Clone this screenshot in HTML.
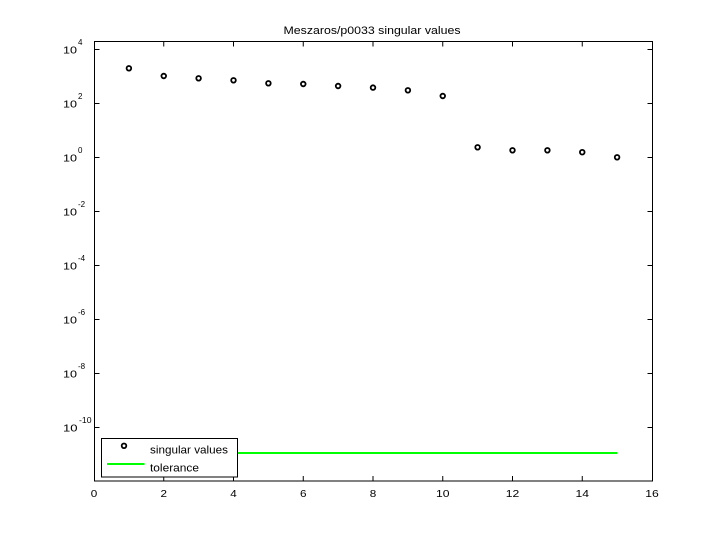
<!DOCTYPE html>
<html>
<head>
<meta charset="utf-8">
<style>
html,body{margin:0;padding:0;background:#fff;}
svg{display:block;}
text{font-family:"Liberation Sans",Arial,sans-serif;fill:#000;}
</style>
</head>
<body>
<svg width="720" height="540" viewBox="0 0 720 540" xmlns="http://www.w3.org/2000/svg">
<rect x="0" y="0" width="720" height="540" fill="#fff"/>
<!-- title -->
<text x="372" y="34" font-size="11" text-anchor="middle" textLength="177" lengthAdjust="spacingAndGlyphs">Meszaros/p0033 singular values</text>
<!-- axes box -->
<rect x="94.5" y="41.5" width="558" height="439.5" fill="none" stroke="#000" stroke-width="1"/>
<!-- x ticks -->
<g stroke="#000" stroke-width="1">
<line x1="163.75" y1="481" x2="163.75" y2="476"/><line x1="163.75" y1="41.5" x2="163.75" y2="46.5"/>
<line x1="233.5" y1="481" x2="233.5" y2="476"/><line x1="233.5" y1="41.5" x2="233.5" y2="46.5"/>
<line x1="303.25" y1="481" x2="303.25" y2="476"/><line x1="303.25" y1="41.5" x2="303.25" y2="46.5"/>
<line x1="373" y1="481" x2="373" y2="476"/><line x1="373" y1="41.5" x2="373" y2="46.5"/>
<line x1="442.75" y1="481" x2="442.75" y2="476"/><line x1="442.75" y1="41.5" x2="442.75" y2="46.5"/>
<line x1="512.5" y1="481" x2="512.5" y2="476"/><line x1="512.5" y1="41.5" x2="512.5" y2="46.5"/>
<line x1="582.25" y1="481" x2="582.25" y2="476"/><line x1="582.25" y1="41.5" x2="582.25" y2="46.5"/>
</g>
<!-- y ticks -->
<g stroke="#000" stroke-width="1">
<line x1="94.5" y1="49.5" x2="99.5" y2="49.5"/><line x1="652.5" y1="49.5" x2="647.5" y2="49.5"/>
<line x1="94.5" y1="103.5" x2="99.5" y2="103.5"/><line x1="652.5" y1="103.5" x2="647.5" y2="103.5"/>
<line x1="94.5" y1="157.5" x2="99.5" y2="157.5"/><line x1="652.5" y1="157.5" x2="647.5" y2="157.5"/>
<line x1="94.5" y1="211.5" x2="99.5" y2="211.5"/><line x1="652.5" y1="211.5" x2="647.5" y2="211.5"/>
<line x1="94.5" y1="265.5" x2="99.5" y2="265.5"/><line x1="652.5" y1="265.5" x2="647.5" y2="265.5"/>
<line x1="94.5" y1="319.5" x2="99.5" y2="319.5"/><line x1="652.5" y1="319.5" x2="647.5" y2="319.5"/>
<line x1="94.5" y1="373.5" x2="99.5" y2="373.5"/><line x1="652.5" y1="373.5" x2="647.5" y2="373.5"/>
<line x1="94.5" y1="427.5" x2="99.5" y2="427.5"/><line x1="652.5" y1="427.5" x2="647.5" y2="427.5"/>
</g>
<!-- x tick labels -->
<g font-size="10" text-anchor="middle">
<text x="94" y="497" textLength="6.5" lengthAdjust="spacingAndGlyphs">0</text>
<text x="163.75" y="497" textLength="6.5" lengthAdjust="spacingAndGlyphs">2</text>
<text x="233.5" y="497" textLength="6.5" lengthAdjust="spacingAndGlyphs">4</text>
<text x="303.25" y="497" textLength="6.5" lengthAdjust="spacingAndGlyphs">6</text>
<text x="373" y="497" textLength="6.5" lengthAdjust="spacingAndGlyphs">8</text>
<text x="442.75" y="497" textLength="13.5" lengthAdjust="spacingAndGlyphs">10</text>
<text x="512.5" y="497" textLength="13.5" lengthAdjust="spacingAndGlyphs">12</text>
<text x="582.25" y="497" textLength="13.5" lengthAdjust="spacingAndGlyphs">14</text>
<text x="652" y="497" textLength="13.5" lengthAdjust="spacingAndGlyphs">16</text>
</g>
<!-- y tick labels -->
<g font-size="10">
<text x="63" y="53.5" textLength="14" lengthAdjust="spacingAndGlyphs">10</text><text x="78" y="45" font-size="8">4</text>
<text x="63" y="107.5" textLength="14" lengthAdjust="spacingAndGlyphs">10</text><text x="78" y="99" font-size="8">2</text>
<text x="63" y="161.5" textLength="14" lengthAdjust="spacingAndGlyphs">10</text><text x="78" y="153" font-size="8">0</text>
<text x="63" y="215.5" textLength="14" lengthAdjust="spacingAndGlyphs">10</text><text x="78" y="207" font-size="8">-2</text>
<text x="63" y="269.5" textLength="14" lengthAdjust="spacingAndGlyphs">10</text><text x="78" y="261" font-size="8">-4</text>
<text x="63" y="323.5" textLength="14" lengthAdjust="spacingAndGlyphs">10</text><text x="78" y="315" font-size="8">-6</text>
<text x="63" y="377.5" textLength="14" lengthAdjust="spacingAndGlyphs">10</text><text x="78" y="369" font-size="8">-8</text>
<text x="63" y="431.5" textLength="14.5" lengthAdjust="spacingAndGlyphs">10</text><text x="79" y="423" font-size="8" textLength="12.5" lengthAdjust="spacingAndGlyphs">-10</text>
</g>
<!-- tolerance line -->
<line x1="128.9" y1="453" x2="617.3" y2="453" stroke="#00ff00" stroke-width="2"/>
<!-- singular values markers -->
<g fill="none" stroke="#000" stroke-width="1.8">
<circle cx="128.9" cy="68.3" r="2.3"/>
<circle cx="163.75" cy="76" r="2.3"/>
<circle cx="198.6" cy="78.3" r="2.3"/>
<circle cx="233.5" cy="80.3" r="2.3"/>
<circle cx="268.4" cy="83.3" r="2.3"/>
<circle cx="303.25" cy="84" r="2.3"/>
<circle cx="338.1" cy="86" r="2.3"/>
<circle cx="373" cy="87.6" r="2.3"/>
<circle cx="407.9" cy="90.3" r="2.3"/>
<circle cx="442.75" cy="96" r="2.3"/>
<circle cx="477.6" cy="147.3" r="2.3"/>
<circle cx="512.5" cy="150.3" r="2.3"/>
<circle cx="547.4" cy="150.3" r="2.3"/>
<circle cx="582.25" cy="152.2" r="2.3"/>
<circle cx="617.1" cy="157.3" r="2.3"/>
</g>
<!-- legend -->
<rect x="101.5" y="438.5" width="136" height="38.5" fill="#fff" stroke="#000" stroke-width="1"/>
<circle cx="124" cy="445.8" r="2.3" fill="none" stroke="#000" stroke-width="1.8"/>
<text x="150" y="453.5" font-size="11" textLength="78" lengthAdjust="spacingAndGlyphs">singular values</text>
<line x1="107" y1="464" x2="144.5" y2="464" stroke="#00ff00" stroke-width="2"/>
<text x="150" y="471.5" font-size="11" textLength="49" lengthAdjust="spacingAndGlyphs">tolerance</text>
</svg>
</body>
</html>
